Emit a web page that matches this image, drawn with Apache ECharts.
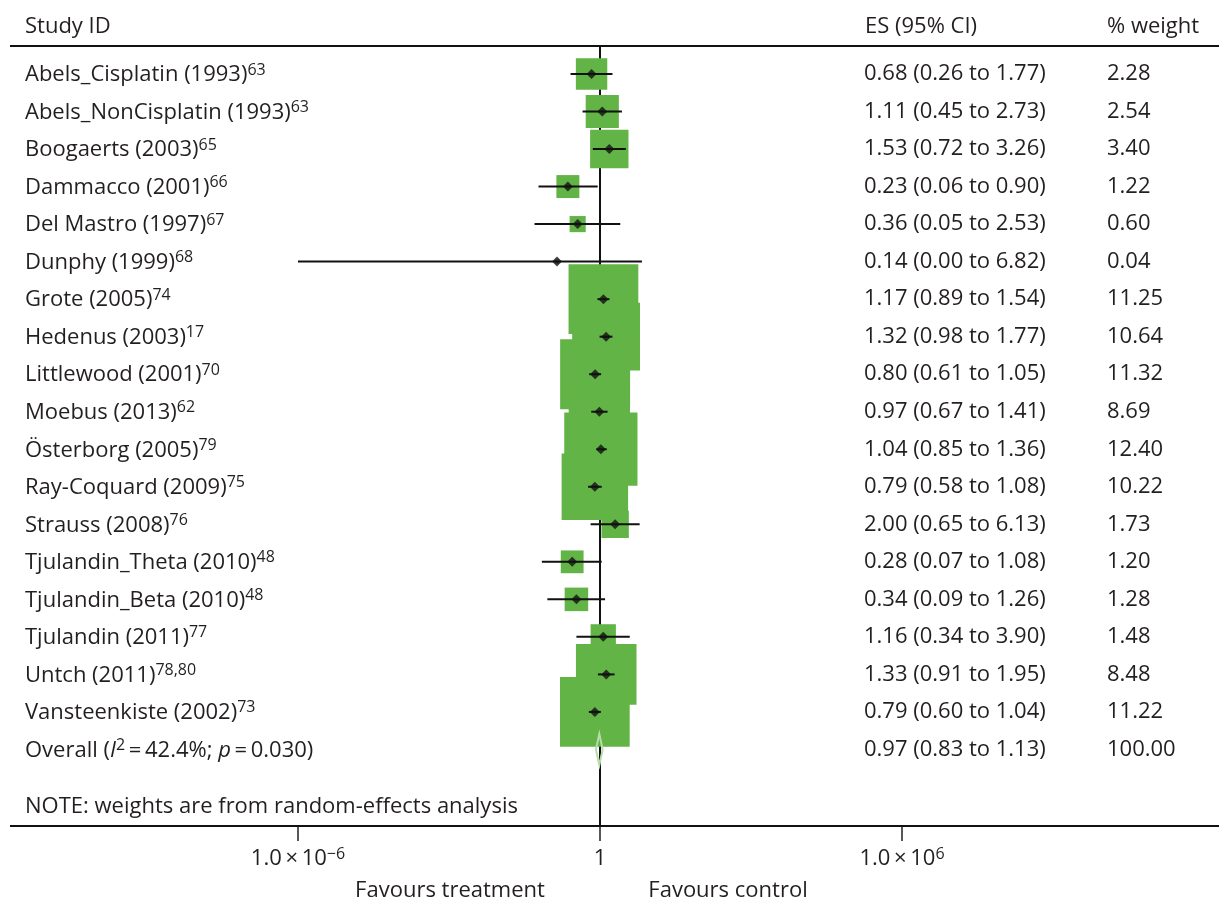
<!DOCTYPE html>
<html><head><meta charset="utf-8">
<script src="https://cdn.jsdelivr.net/npm/echarts@6/dist/echarts.min.js"></script>
<style>html,body{margin:0;padding:0;background:#fff}#c{width:1219px;height:901px}</style>
</head><body><div id="c"></div>
<script>
// ---- data ----
const studies = ['Abels_Cisplatin (1993)','Abels_NonCisplatin (1993)','Boogaerts (2003)','Dammacco (2001)','Del Mastro (1997)','Dunphy (1999)','Grote (2005)','Hedenus (2003)','Littlewood (2001)','Moebus (2013)','Österborg (2005)','Ray-Coquard (2009)','Strauss (2008)','Tjulandin_Theta (2010)','Tjulandin_Beta (2010)','Tjulandin (2011)','Untch (2011)','Vansteenkiste (2002)'];
const refs = ['63','63','65','66','67','68','74','17','70','62','79','75','76','48','48','77','78,80','73'];
const es = [0.68,1.11,1.53,0.23,0.36,0.14,1.17,1.32,0.80,0.97,1.04,0.79,2.00,0.28,0.34,1.16,1.33,0.79];
const lo = [0.26,0.45,0.72,0.06,0.05,0.000001,0.89,0.98,0.61,0.67,0.85,0.58,0.65,0.07,0.09,0.34,0.91,0.60];
const hi = [1.77,2.73,3.26,0.90,2.53,6.82,1.54,1.77,1.05,1.41,1.36,1.08,6.13,1.08,1.26,3.90,1.95,1.04];
const weights = [2.28,2.54,3.40,1.22,0.60,0.04,11.25,10.64,11.32,8.69,12.40,10.22,1.73,1.20,1.28,1.48,8.48,11.22];
const overallES = 0.97, overallLo = 0.83, overallHi = 1.13, overallWeight = 100.00;
const overallI2 = '42.4%', overallP = '0.030';
const headers = ['Study ID', 'ES (95% CI)', '% weight'];
const note = 'NOTE: weights are from random-effects analysis';
const favours = ['Favours treatment', 'Favours control'];

// ---- layout / style ----
const FONT = 'Open Sans', FS = 22, TXT = '#231f20', GREEN = '#63b446';
const nRows = studies.length + 1;
const rows = Array.from({length: nRows}, (_, i) => i);
const oRow = studies.length;
const f2 = v => v.toFixed(2);
const TS = '\u2009';
const esText = i => i === oRow ? `${f2(overallES)} (${f2(overallLo)} to ${f2(overallHi)})` : `${f2(es[i])} (${f2(lo[i])} to ${f2(hi[i])})`;
const wText = i => i === oRow ? f2(overallWeight) : f2(weights[i]);
const leftText = i => i === oRow ? `Overall ({it|I}{sup|2}${TS}={n|${TS}${overallI2}}; {it|p}${TS}={n|${TS}${overallP}})` : `${studies[i]}{sup|${refs[i]}}`;

const rich = {
  sup: {fontFamily: FONT, fontSize: 16, color: TXT, verticalAlign: 'top', lineHeight: 17},
  it: {fontFamily: FONT, fontSize: FS, color: TXT, fontStyle: 'italic', lineHeight: 26},
  n: {fontFamily: FONT, fontSize: FS, color: TXT, lineHeight: 26}
};
const yBase = {type: 'value', inverse: true, min: -0.746, max: 20.04,
  axisLine: {show: false}, axisTick: {show: false}, splitLine: {show: false}};
const font = `${FS}px "${FONT}"`;

const chart = echarts.init(document.getElementById('c'), null, {renderer: 'canvas'});
chart.setOption({
  animation: false,
  backgroundColor: '#fff',
  textStyle: {fontFamily: FONT},
  grid: {left: 298, right: 317, top: 46, bottom: 75, containLabel: false},
  xAxis: {type: 'log', logBase: 10, min: 1e-6, max: 1e6, interval: 6,
    axisLine: {show: false, onZero: false}, splitLine: {show: false},
    axisTick: {show: true, length: 15, lineStyle: {color: TXT, width: 1.5}},
    axisLabel: {margin: 20, fontFamily: FONT, fontSize: FS, color: TXT, lineHeight: 26,
      formatter: v => { const e = Math.round(Math.log10(v)); return e === 0 ? '1' : `1.0\u2009\u00d7\u200910{sup|${e < 0 ? '\u2212' + (-e) : e}}`; },
      rich: rich}
  },
  yAxis: [
    Object.assign({}, yBase, {position: 'left', axisLabel: {customValues: rows, align: 'left', margin: 273, padding: [2, 0, 0, 0],
      fontFamily: FONT, fontSize: FS, color: TXT, lineHeight: 26, formatter: v => leftText(Math.round(v)), rich: rich}}),
    Object.assign({}, yBase, {position: 'right', axisLabel: {customValues: rows, align: 'left', margin: -38, padding: [8, 0, 0, 0],
      fontFamily: FONT, fontSize: FS, color: TXT, formatter: v => esText(Math.round(v))}}),
    Object.assign({}, yBase, {position: 'right', axisLabel: {customValues: rows, align: 'left', margin: 205, padding: [8, 0, 0, 0],
      fontFamily: FONT, fontSize: FS, color: TXT, formatter: v => wText(Math.round(v))}})
  ],
  series: [
    {type: 'scatter', name: 'boxes', z: 3, symbol: 'rect', silent: true,
      data: es.map((v, i) => [v, i, weights[i]]),
      symbolSize: d => 20.8 * Math.sqrt(d[2]),
      itemStyle: {color: GREEN, opacity: 1},
      markLine: {silent: true, z: 1, symbol: ['none', 'none'], label: {show: false},
        data: [
          {xAxis: 1, lineStyle: {color: '#111', width: 2, type: 'solid'}},
          {xAxis: overallES, lineStyle: {color: '#111', width: 2, type: [9, 4]}}
        ]}
    },
    {type: 'custom', name: 'ci', z: 4, silent: true,
      data: es.map((v, i) => [lo[i], hi[i], i]),
      encode: {x: [0, 1], y: 2},
      renderItem: (params, api) => {
        const a = api.coord([api.value(0), api.value(2)]);
        const b = api.coord([api.value(1), api.value(2)]);
        return {type: 'line', shape: {x1: a[0], y1: a[1], x2: b[0], y2: b[1]}, style: {stroke: '#111', lineWidth: 2}};
      }
    },
    {type: 'scatter', name: 'es', z: 5, symbol: 'diamond', symbolSize: 10, silent: true,
      data: es.map((v, i) => [v, i]), itemStyle: {color: '#111'}},
    {type: 'custom', name: 'overall', z: 6, silent: true,
      data: [[overallLo, overallES, overallHi, oRow]],
      encode: {x: [0, 1, 2], y: 3},
      renderItem: (params, api) => {
        const l = api.coord([api.value(0), api.value(3)]);
        const m = api.coord([api.value(1), api.value(3)]);
        const r = api.coord([api.value(2), api.value(3)]);
        const h = 15.5;
        return {type: 'polygon', shape: {points: [[l[0], l[1]], [m[0], m[1] - h], [r[0], r[1]], [m[0], m[1] + h]]},
          style: {fill: 'rgba(0,0,0,0)', stroke: '#b8dca9', lineWidth: 2}};
      }
    }
  ],
  graphic: [
    {type: 'line', shape: {x1: 10, y1: 46, x2: 1219, y2: 46}, style: {stroke: '#111', lineWidth: 2}, z: 10},
    {type: 'line', shape: {x1: 10, y1: 826, x2: 1219, y2: 826}, style: {stroke: '#111', lineWidth: 2}, z: 10},
    {type: 'text', x: 25, y: 26.5, style: {text: headers[0], font: font, fill: TXT, verticalAlign: 'middle'}},
    {type: 'text', x: 865, y: 26.5, style: {text: headers[1], font: font, fill: TXT, verticalAlign: 'middle'}},
    {type: 'text', x: 1107, y: 26.5, style: {text: headers[2], font: font, fill: TXT, verticalAlign: 'middle'}},
    {type: 'text', x: 25, y: 806.5, style: {text: note, font: font, fill: TXT, verticalAlign: 'middle'}},
    {type: 'text', x: 450, y: 891, style: {text: favours[0], font: font, fill: TXT, align: 'center', verticalAlign: 'middle'}},
    {type: 'text', x: 728, y: 891, style: {text: favours[1], font: font, fill: TXT, align: 'center', verticalAlign: 'middle'}}
  ]
});
</script></body></html>
